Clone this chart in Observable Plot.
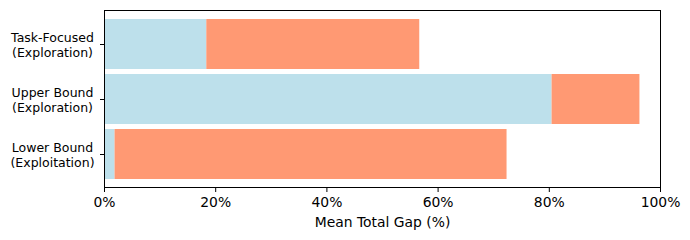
<!DOCTYPE html>
<html>
<head>
<meta charset="utf-8">
<script src="https://cdn.jsdelivr.net/npm/d3@7"></script>
<script src="https://cdn.jsdelivr.net/npm/@observablehq/plot@0.6"></script>
<style>
  html, body { margin: 0; padding: 0; background: #fff; }
  #chart svg { display: block; }
</style>
</head>
<body>
<div id="chart"></div>
<script>
// Categories, top to bottom
const categories = ["Task-Focused\n(Exploration)", "Upper Bound\n(Exploration)", "Lower Bound\n(Exploitation)"];
// First (light blue) segment, % of mean total gap
const seriesA = [18.4, 80.5, 1.9];
// Second (coral) segment, % of mean total gap
const seriesB = [38.3, 15.8, 70.5];
const seriesNames = ["Segment A", "Segment B"];
const seriesColors = ["#BDE0EB", "#FF9973"];
const xTicks = [0, 20, 40, 60, 80, 100];

const rows = [];
categories.forEach((c, i) => {
  rows.push({cat: c, series: seriesNames[0], value: seriesA[i]});
  rows.push({cat: c, series: seriesNames[1], value: seriesB[i]});
});

const chart = Plot.plot({
  width: 690,
  height: 240,
  marginLeft: 104,
  marginRight: 30,
  marginTop: 10,
  marginBottom: 53,
  style: {fontFamily: "DejaVu Sans", color: "#000", background: "#fff"},
  x: {domain: [0, 100]},
  y: {domain: categories, paddingInner: 0.1, paddingOuter: 0.145},
  color: {domain: seriesNames, range: seriesColors},
  marks: [
    Plot.barX(rows, {x: "value", y: "cat", fill: "series", insetTop: 0, insetBottom: 0, order: seriesNames}),
    Plot.frame({stroke: "#000", strokeWidth: 1}),
    Plot.axisY({tickSize: 4, tickFormat: () => "", label: null, stroke: "#000", strokeOpacity: 1}),
    Plot.text(categories, {
      y: d => d, text: d => d, frameAnchor: "left", dx: -52, textAnchor: "middle",
      lineAnchor: "middle", lineHeight: 1.2, fontSize: 12.5, fill: "#000"
    }),
    Plot.axisX({
      ticks: xTicks, tickFormat: d => d + "%", tickSize: 5, tickPadding: 5,
      fontSize: 13.9, stroke: "#000", strokeOpacity: 1,
      label: "Mean Total Gap (%)", labelAnchor: "center", labelArrow: "none", labelOffset: 39
    })
  ]
});
document.getElementById("chart").appendChild(chart);
</script>
</body>
</html>
